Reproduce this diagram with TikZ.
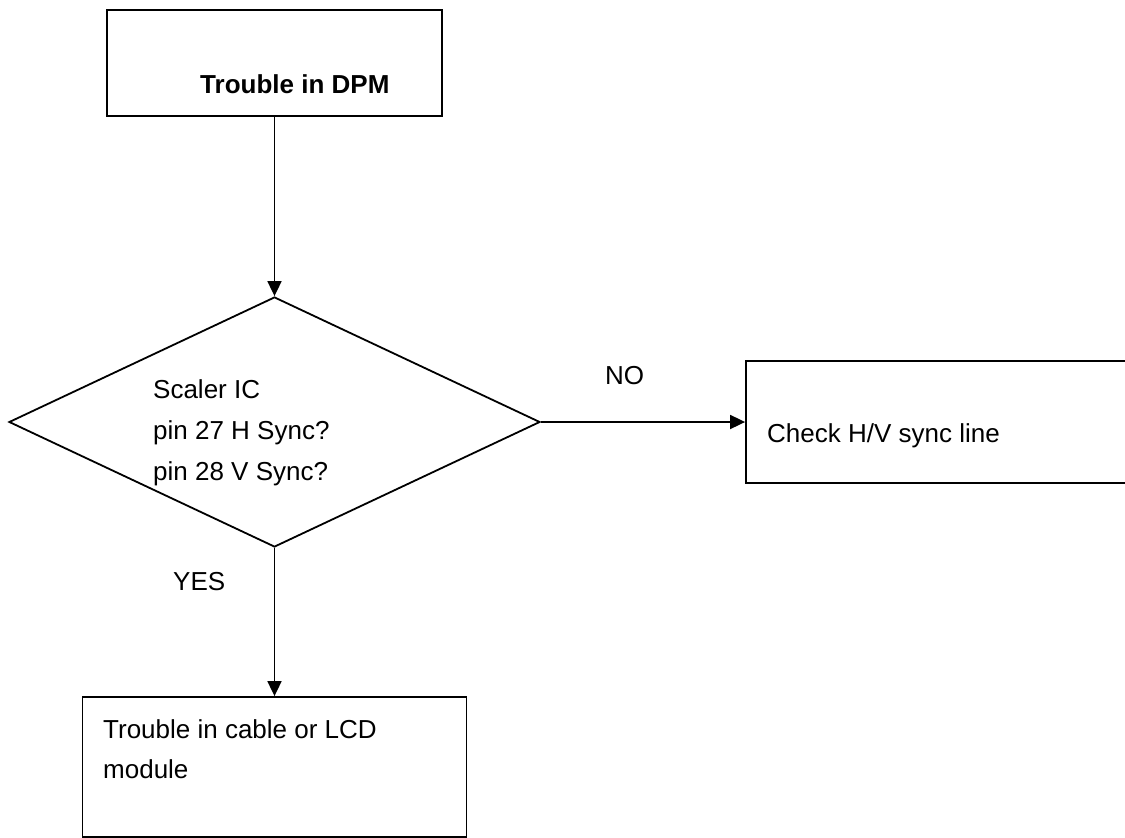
\documentclass[tikz,border=0pt]{standalone}
\usepackage{fontspec}
\setmainfont{Liberation Sans}
\usetikzlibrary{shapes.geometric,arrows.meta}

\tikzset{
  box/.style={draw, line width=1.8pt, inner sep=0pt, rectangle},
  decision/.style={draw, line width=1.8pt, inner sep=0pt, diamond},
  label/.style={inner sep=0pt, anchor=base west, font=\fontsize{26}{41}\selectfont},
  flow/.style={line width=1.8pt, -{Triangle[length=15pt,width=14pt]}},
}

\begin{document}
\begin{tikzpicture}[x=1pt,y=-1pt]
\useasboundingbox (0,0) rectangle (1125,838);
\clip (0,0) rectangle (1125,838);

% process boxes and the decision
\node[box, minimum width=335pt, minimum height=106pt] (start) at (274.5,63) {};
\node[decision, minimum width=531pt, minimum height=250pt] (sync) at (274.5,422) {};
\node[box, minimum width=394pt, minimum height=122pt] (check) at (943,422) {};
\node[box, minimum width=384pt, minimum height=140pt] (cable) at (274.5,767) {};

% box texts
\node[label, font=\fontsize{26}{41}\selectfont\bfseries] (tStart) at (200,93) {Trouble in DPM};
\node[label] (tSync1) at (153,398) {Scaler IC};
\node[label] (tSync2) at (153,439) {pin 27 H Sync?};
\node[label] (tSync3) at (153,480) {pin 28 V Sync?};
\node[label] (tCheck) at (767,442) {Check H/V sync line};
\node[label] (tCable1) at (103,738) {Trouble in cable or LCD};
\node[label] (tCable2) at (103,778) {module};

% connectors
\draw[flow] (start.south) -- (sync.north);
\draw[flow] (sync.east) -- (check.west);
\draw[flow] (sync.south) -- (cable.north);

% branch labels
\node[label] (no) at (605,384) {NO};
\node[label] (yes) at (173,590) {YES};
\end{tikzpicture}
\end{document}
